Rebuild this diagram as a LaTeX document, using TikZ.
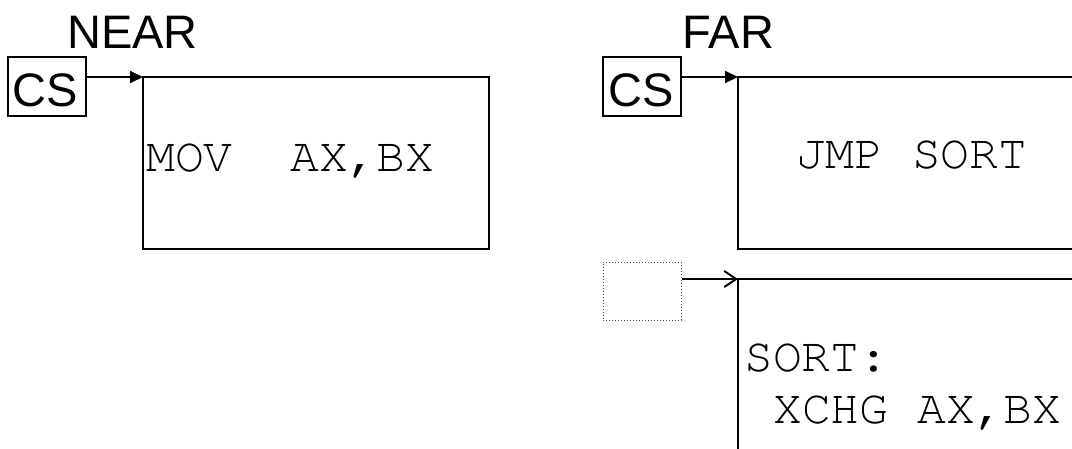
\documentclass[tikz,border=0pt]{standalone}
\usepackage[T1,TU]{fontenc}
\usepackage{fontspec}
\setmainfont{Liberation Sans}
\newcommand{\courierfam}{\fontencoding{T1}\fontfamily{pcr}\fontseries{m}\fontshape{n}}
\usetikzlibrary{arrows.meta}
\begin{document}
\begin{tikzpicture}[x=1pt,y=-1pt,
  lbl/.style={font=\fontsize{47}{50}\selectfont, inner sep=0pt, anchor=base},
  code/.style={font=\courierfam\fontsize{48}{52}\selectfont, inner sep=0pt},
  regbox/.style={draw, line width=2.2pt, minimum width=78pt, minimum height=59pt, inner sep=0pt},
  ghostbox/.style={draw=black!70, dotted, line width=1pt, minimum width=78pt, minimum height=58pt, inner sep=0pt},
  memline/.style={line width=2.6pt},
  ptr/.style={line width=2pt, -{Triangle[length=13pt,width=12pt]}},
  optr/.style={line width=2pt, -{Straight Barb[length=12pt,width=16pt,line width=2pt]}}]
\useasboundingbox (0,0) rectangle (1072,448);
\clip (0,0) rectangle (1072,448);
% NEAR
\node[lbl] (near) at (132.5,48) {NEAR};
\node[regbox] (cs1) at (47,86.5) {};
\node[lbl] (cs1t) at (45,106) {CS};
\coordinate (m1) at (143,77);
\draw[memline] (m1) rectangle (489,249);
\node[code, anchor=base west] (mov) at (146,171) {MOV\ \ AX,BX};
\draw[ptr] (cs1.east |- m1) -- (m1);
% FAR
\node[lbl] (far) at (728.5,48) {FAR};
\node[regbox] (cs2) at (642,86.5) {};
\node[lbl] (cs2t) at (641,106) {CS};
\coordinate (m2) at (738,77);
\draw[memline] (m2) rectangle (1090,249);
\node[code, anchor=base] (jmp) at (912,168) {JMP SORT};
\draw[ptr] (cs2.east |- m2) -- (m2);
% target segment
\node[ghostbox] (cs3) at (642,291) {};
\coordinate (m3) at (738,279);
\draw[memline] (1090,279) -- (m3) -- (738,470);
\node[code, anchor=base west] (sort) at (744,371) {SORT:};
\node[code, anchor=base west] (xchg) at (773,423) {XCHG AX,BX};
\draw[optr] (cs3.east |- m3) -- (m3);
\end{tikzpicture}
\end{document}
